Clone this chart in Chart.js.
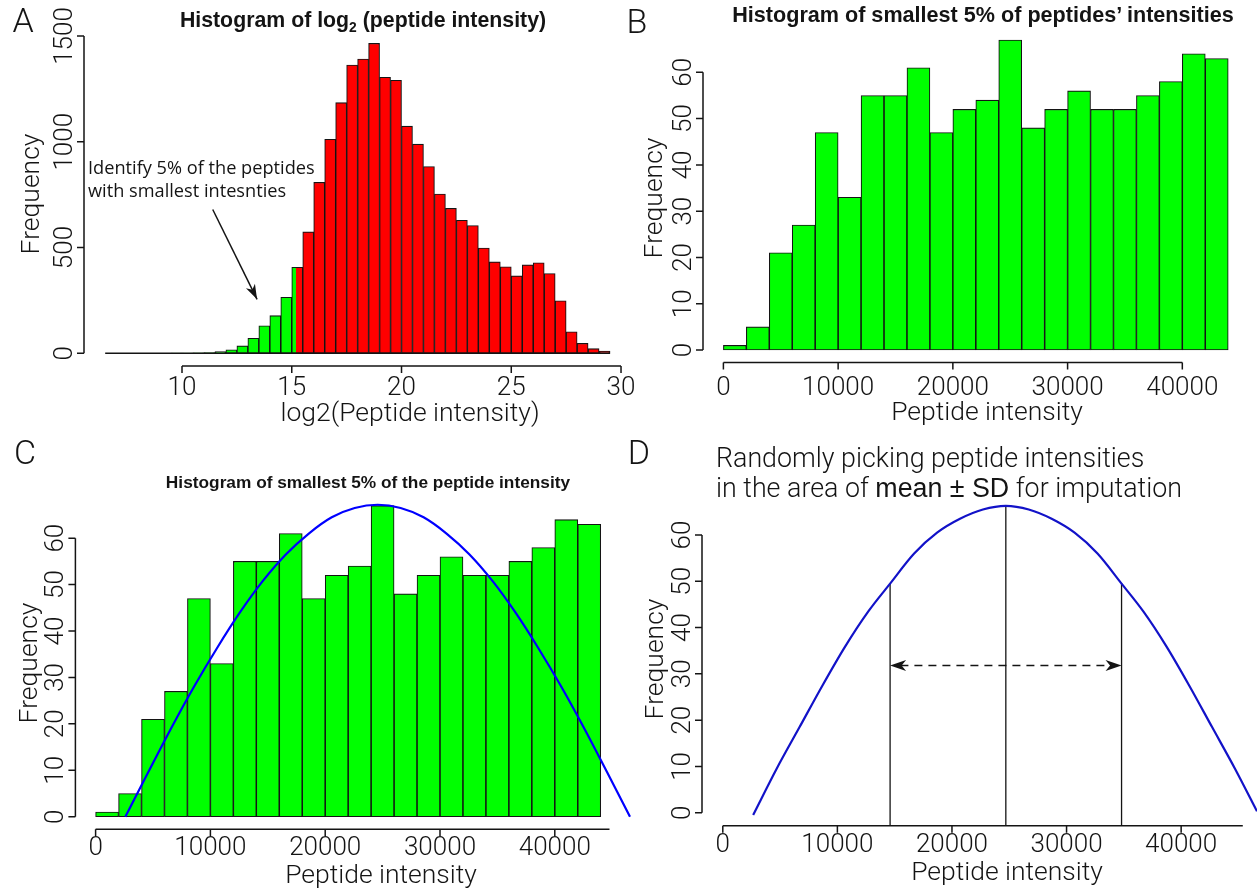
<!DOCTYPE html>
<html>
<head>
<meta charset="utf-8">
<script src="https://cdn.jsdelivr.net/npm/chart.js@4.4.1/dist/chart.umd.min.js"></script>
<style>
  body { margin: 0; background: #fff; }
  #fig { position: relative; width: 1257px; height: 888px; overflow: hidden; background: #fff; }
  canvas { position: absolute; }
  .t { position: absolute; white-space: nowrap; line-height: 1; color: #141414; }
  .c { transform: translate(-50%, -50%); }
  .l { transform: translate(0, -50%); }
  .r { transform: translate(-50%, -50%) rotate(-90deg); }
  .light { font-family: Roboto, "Liberation Sans", sans-serif; font-weight: 300; }
  .bold { font-family: "Liberation Sans", Arial, sans-serif; font-weight: bold; }
</style>
</head>
<body>
<div id="fig">
  <canvas id="chartA" width="660" height="440" style="left:0;top:0"></canvas>
  <canvas id="chartB" width="629" height="440" style="left:628px;top:0"></canvas>
  <canvas id="chartC" width="632" height="448" style="left:0;top:440px"></canvas>
  <canvas id="chartD" width="629" height="448" style="left:628px;top:440px"></canvas>

  <!-- panel letters -->
  <div class="t c light" style="left:23px;top:20px;font-size:34px">A</div>
  <div class="t c light" style="left:637px;top:21px;font-size:34px">B</div>
  <div class="t c light" style="left:25px;top:452px;font-size:34px">C</div>
  <div class="t c light" style="left:639px;top:452px;font-size:34px">D</div>

  <!-- titles -->
  <div class="t c bold" style="left:363px;top:21px;font-size:21.3px">Histogram of log<span style="font-size:0.65em;position:relative;top:0.35em">2</span> (peptide intensity)</div>
  <div class="t c bold" style="left:983px;top:15px;font-size:21.6px">Histogram of smallest 5% of peptides’ intensities</div>
  <div class="t c bold" style="left:368px;top:483px;font-size:17.3px">Histogram of smallest 5% of the peptide intensity</div>
  <div class="t l light" style="left:716px;top:458px;font-size:26.8px">Randomly picking peptide intensities</div>
  <div class="t l light" style="left:716px;top:488px;font-size:26.8px">in the area of <b style="font-family:'Liberation Sans',Arial,sans-serif">mean ± SD</b> for imputation</div>

  <!-- axis titles -->
  <div class="t c light" style="left:410px;top:412px;font-size:26.5px">log2(Peptide intensity)</div>
  <div class="t r light" style="left:30px;top:194px;font-size:26.5px">Frequency</div>
  <div class="t c light" style="left:987px;top:411px;font-size:26.5px">Peptide intensity</div>
  <div class="t r light" style="left:653px;top:198px;font-size:26.5px">Frequency</div>
  <div class="t c light" style="left:381px;top:874px;font-size:26.5px">Peptide intensity</div>
  <div class="t r light" style="left:28px;top:663px;font-size:26.5px">Frequency</div>
  <div class="t c light" style="left:1007px;top:871px;font-size:26.5px">Peptide intensity</div>
  <div class="t r light" style="left:654px;top:659px;font-size:26.5px">Frequency</div>

  <!-- annotation, panel A -->
  <div class="t l" style="left:88px;top:167px;font:18.2px 'Open Sans',sans-serif">Identify 5% of the peptides</div>
  <div class="t l" style="left:88px;top:190px;font:18.2px 'Open Sans',sans-serif">with smallest intesnties</div>
</div>

<script>
// ---- A: histogram of log2(peptide intensity), bins of 0.5 starting at 6.5 ----
const log2BinStart = 6.5;
const log2BinWidth = 0.5;
const log2Counts = [
  0, 0, 0, 0, 0, 0, 1, 1, 2, 3,
  8, 17, 35, 71, 130, 178, 265, 407,
  574, 808, 1012, 1185, 1363, 1391, 1465, 1305, 1291, 1074,
  989, 883, 753, 685, 629, 604, 498, 432, 409, 366,
  418, 428, 377, 248, 102, 47, 22, 11
];
const log2Cutoff = 15.2;           // smallest 5% (green) below this
const log2Ticks = [10, 15, 20, 25, 30];
const log2FreqTicks = [0, 500, 1000, 1500];

// ---- B / C: smallest 5% of intensities, bins of 2000 ----
const lowBinStart = 0;
const lowBinWidth = 2000;
const lowCounts = [1, 5, 21, 27, 47, 33, 55, 55, 61, 47, 52, 54, 67, 48, 52, 56, 52, 52, 55, 58, 64, 63];
const intensityTicks = [0, 10000, 20000, 30000, 40000];
const freqTicks = [0, 10, 20, 30, 40, 50, 60];

// ---- C: fitted curve over the histogram ----
const fitX = [2590, 4570, 6570, 8570, 10570, 12570, 14570, 16570, 18570, 20570, 22570, 24570,
              26570, 28570, 30570, 32570, 34570, 36570, 38570, 40570, 42570, 44570, 46550];
const fitY = [0, 9.5, 19, 28, 36.3, 44, 50.8, 56.5, 61, 64.5, 66.5, 67.2,
              66.5, 64.5, 61, 56.5, 50.8, 44, 36.3, 28, 19, 9.5, 0];

// ---- D: imputation curve, mean and mean ± SD ----
const imputeX = [2650, 4700, 6700, 8700, 10700, 12700, 14600, 16700, 18700, 20700, 22700, 24700,
                 26700, 28700, 30700, 32700, 34800, 36700, 38700, 40700, 42700, 44700, 46620];
const imputeY = [-0.5, 9.5, 18.5, 27.5, 36, 43.5, 49.5, 56, 60.5, 63.5, 65.5, 66.3,
                 65.5, 63.5, 60.5, 56, 49.5, 43.5, 36, 27.5, 18.5, 9.5, 0.3];
const imputeMean = 24700;
const imputeLow = 14600;
const imputeHigh = 34800;
const imputeMeanTop = 66.3;
const imputeSdTop = 49.5;
const imputeArrowY = 31.8;

const GREEN = '#00ff00';
const RED = '#ff0000';
const INK = '#141414';
const TICK_FONT = '300 26px Roboto, "Liberation Sans", sans-serif';

function binPoints(start, width, counts) {
  return counts.map((v, i) => ({ x: start + (i + 0.5) * width, y: v }));
}

function arrowHead(ctx, x, y, ang, len, half) {
  ctx.save();
  ctx.translate(x, y);
  ctx.rotate(ang);
  ctx.beginPath();
  ctx.moveTo(0, 0);
  ctx.lineTo(-len, -half);
  ctx.lineTo(-len * 0.72, 0);
  ctx.lineTo(-len, half);
  ctx.closePath();
  ctx.fill();
  ctx.restore();
}

// R-like axes: lines only between the given values, ticks outside, rotated y labels
function rStyle(cfg) {
  return {
    id: 'rStyle',
    afterDatasetsDraw(chart) {
      const { ctx, chartArea: a, scales: { x, y } } = chart;
      ctx.save();
      ctx.strokeStyle = INK;
      ctx.fillStyle = INK;
      ctx.lineWidth = 1.5;
      ctx.beginPath();
      if (cfg.baseline) {
        const y0 = y.getPixelForValue(0);
        ctx.moveTo(x.getPixelForValue(cfg.baseline[0]), y0);
        ctx.lineTo(x.getPixelForValue(cfg.baseline[1]), y0);
      }
      const xa = a.bottom;
      ctx.moveTo(x.getPixelForValue(cfg.xLine[0]), xa);
      ctx.lineTo(x.getPixelForValue(cfg.xLine[1]), xa);
      x.ticks.forEach(t => {
        const px = x.getPixelForValue(t.value);
        ctx.moveTo(px, xa);
        ctx.lineTo(px, xa + 7);
      });
      const ya = a.left;
      ctx.moveTo(ya, y.getPixelForValue(cfg.yLine[0]));
      ctx.lineTo(ya, y.getPixelForValue(cfg.yLine[1]));
      y.ticks.forEach(t => {
        const py = y.getPixelForValue(t.value);
        ctx.moveTo(ya, py);
        ctx.lineTo(ya - 7, py);
      });
      ctx.stroke();

      ctx.font = TICK_FONT;
      ctx.textAlign = 'center';
      ctx.textBaseline = 'alphabetic';
      x.ticks.forEach(t => ctx.fillText(String(t.value), x.getPixelForValue(t.value), xa + cfg.xLabelDy));
      y.ticks.forEach(t => {
        ctx.save();
        ctx.translate(ya - 12, y.getPixelForValue(t.value));
        ctx.rotate(-Math.PI / 2);
        ctx.fillText(String(t.value), 0, 0);
        ctx.restore();
      });

      // annotation arrows
      if (cfg.arrow) {
        const x1 = x.getPixelForValue(cfg.arrow.from[0]), y1 = y.getPixelForValue(cfg.arrow.from[1]);
        const x2 = x.getPixelForValue(cfg.arrow.to[0]), y2 = y.getPixelForValue(cfg.arrow.to[1]);
        ctx.lineWidth = 1.5;
        ctx.beginPath();
        ctx.moveTo(x1, y1);
        ctx.lineTo(x2, y2);
        ctx.stroke();
        arrowHead(ctx, x2, y2, Math.atan2(y2 - y1, x2 - x1), 15, 5);
      }
      (cfg.heads || []).forEach(h => {
        arrowHead(ctx, x.getPixelForValue(h.at[0]), y.getPixelForValue(h.at[1]), h.dir, 16, 5.5);
      });
      ctx.restore();
    }
  };
}

function panelOptions(p) {
  return {
    responsive: false,
    animation: false,
    devicePixelRatio: 1,
    layout: { padding: p.pad },
    plugins: { legend: { display: false }, tooltip: { enabled: false } },
    scales: {
      x: {
        type: 'linear', display: false, offset: false, min: p.x[0], max: p.x[1],
        afterBuildTicks: s => { s.ticks = p.xTicks.map(v => ({ value: v })); }
      },
      y: {
        type: 'linear', display: false, min: p.y[0], max: p.y[1],
        afterBuildTicks: s => { s.ticks = p.yTicks.map(v => ({ value: v })); }
      }
    }
  };
}

const barStyle = {
  borderColor: INK,
  borderWidth: 1.1,
  borderSkipped: false,
  barPercentage: 1,
  categoryPercentage: 1
};

// --- A ---
new Chart(document.getElementById('chartA'), {
  type: 'bar',
  data: {
    datasets: [Object.assign({
      data: binPoints(log2BinStart, log2BinWidth, log2Counts),
      backgroundColor(c) {
        const lo = log2BinStart + c.dataIndex * log2BinWidth, hi = lo + log2BinWidth;
        if (hi <= log2Cutoff) return GREEN;
        if (lo >= log2Cutoff || !c.chart.chartArea) return RED;
        const xs = c.chart.scales.x;
        const x0 = xs.getPixelForValue(lo), x1 = xs.getPixelForValue(hi);
        const t = (xs.getPixelForValue(log2Cutoff) - x0) / (x1 - x0);
        const g = c.chart.ctx.createLinearGradient(x0, 0, x1, 0);
        g.addColorStop(0, GREEN); g.addColorStop(t, GREEN);
        g.addColorStop(t, RED); g.addColorStop(1, RED);
        return g;
      }
    }, barStyle)]
  },
  options: panelOptions({
    pad: { left: 84, right: 28, top: 31, bottom: 74 },
    x: [5.535, 30.5], y: [-60, 1523.7],
    xTicks: log2Ticks, yTicks: log2FreqTicks
  }),
  plugins: [rStyle({
    xLine: [10, 30], yLine: [0, 1500], xLabelDy: 29,
    baseline: [log2BinStart, log2BinStart + log2Counts.length * log2BinWidth],
    arrow: { from: [11.4, 680], to: [13.42, 255] }
  })]
});

// --- B ---
new Chart(document.getElementById('chartB'), {
  type: 'bar',
  data: {
    datasets: [Object.assign({
      data: binPoints(lowBinStart, lowBinWidth, lowCounts),
      backgroundColor: GREEN
    }, barStyle)]
  },
  options: panelOptions({
    pad: { left: 75, right: 0, top: 27, bottom: 77.6 },
    x: [-1778, 46509], y: [-2.68, 69.8],
    xTicks: intensityTicks, yTicks: freqTicks
  }),
  plugins: [rStyle({ xLine: [0, 40000], yLine: [0, 60], xLabelDy: 33 })]
});

// --- C ---
new Chart(document.getElementById('chartC'), {
  type: 'bar',
  data: {
    datasets: [
      {
        type: 'line', order: 0,
        data: fitX.map((v, i) => ({ x: v, y: fitY[i] })),
        borderColor: '#0000ff', borderWidth: 2.2, pointRadius: 0,
        cubicInterpolationMode: 'monotone'
      },
      Object.assign({
        order: 1,
        data: binPoints(lowBinStart, lowBinWidth, lowCounts),
        backgroundColor: GREEN
      }, barStyle)
    ]
  },
  options: panelOptions({
    pad: { left: 75.4, right: 0, top: 52.7, bottom: 58.8 },
    x: [-1760, 46725], y: [-2.69, 69.8],
    xTicks: intensityTicks, yTicks: freqTicks
  }),
  plugins: [rStyle({ xLine: [0, 44765], yLine: [0, 60], xLabelDy: 26 })]
});

// --- D ---
const dYMin = -2.81;
const thin = { borderColor: INK, borderWidth: 1.3, pointRadius: 0, tension: 0 };
new Chart(document.getElementById('chartD'), {
  type: 'line',
  data: {
    datasets: [
      {
        data: imputeX.map((v, i) => ({ x: v, y: imputeY[i] })),
        borderColor: '#1212c8', borderWidth: 2.2, pointRadius: 0,
        cubicInterpolationMode: 'monotone'
      },
      Object.assign({ data: [{ x: imputeLow, y: dYMin }, { x: imputeLow, y: imputeSdTop }] }, thin),
      Object.assign({ data: [{ x: imputeMean, y: dYMin }, { x: imputeMean, y: imputeMeanTop }] }, thin),
      Object.assign({ data: [{ x: imputeHigh, y: dYMin }, { x: imputeHigh, y: imputeSdTop }] }, thin),
      Object.assign({
        data: [{ x: imputeLow + 900, y: imputeArrowY }, { x: imputeHigh - 900, y: imputeArrowY }],
        borderDash: [8, 6]
      }, thin, { borderWidth: 1.5 })
    ]
  },
  options: panelOptions({
    pad: { left: 74, right: 0, top: 53.6, bottom: 62.3 },
    x: [-1815, 46620], y: [dYMin, 68.95],
    xTicks: intensityTicks, yTicks: freqTicks
  }),
  plugins: [rStyle({
    xLine: [0, 45380], yLine: [0, 60], xLabelDy: 26,
    heads: [{ at: [imputeLow, imputeArrowY], dir: Math.PI }, { at: [imputeHigh, imputeArrowY], dir: 0 }]
  })]
});
</script>
</body>
</html>
